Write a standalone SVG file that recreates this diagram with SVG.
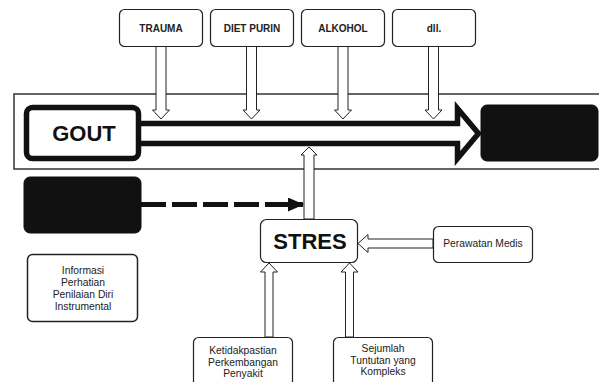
<svg xmlns="http://www.w3.org/2000/svg" width="599" height="382" viewBox="0 0 599 382">
<style>
.box{fill:#fff;stroke:#222;stroke-width:1.2}
.blk{fill:#111;stroke:#111;stroke-width:1}
.ha{fill:#fff;stroke:#222;stroke-width:1}
.tb{font-family:"Liberation Sans",Arial,sans-serif;font-weight:bold;font-size:10px;fill:#222;text-anchor:middle}
.tr{font-family:"Liberation Sans",Arial,sans-serif;font-size:10.3px;fill:#222;text-anchor:middle}
.big{font-family:"Liberation Sans",Arial,sans-serif;font-weight:bold;font-size:22px;fill:#111;text-anchor:middle}
</style>
<defs>
<marker id="ah" viewBox="0 0 16 14" refX="15" refY="7" markerWidth="16" markerHeight="14" markerUnits="userSpaceOnUse" orient="auto">
<path d="M0,0 L16,7 L0,14 Z" fill="#111"/>
</marker>
</defs>
<rect x="14" y="94" width="600" height="75" fill="#fff" stroke="#333" stroke-width="1.5"/>
<g id="connectors">
<path class="ha" d="M156,46 V110 H152.5 L161,119 L169.5,110 H166 V46 Z"/>
<path class="ha" d="M246.5,46 V110 H243 L251.5,119 L260,110 H256.5 V46 Z"/>
<path class="ha" d="M338,46 V110 H334.5 L343,119 L351.5,110 H348 V46 Z"/>
<path class="ha" d="M428.5,46 V110 H425 L433.5,119 L442,110 H438.5 V46 Z"/>
<path d="M120,123.5 H457.5 V108.5 L478.5,133.5 L457.5,158.5 V143.5 H120" fill="#fff" stroke="#111" stroke-width="5.5" stroke-linejoin="miter"/>
<path class="ha" d="M304,219 V155 H301 L309,147 L317,155 H314 V219 Z"/>
<line x1="141" y1="204.5" x2="303" y2="204.5" stroke="#111" stroke-width="5" stroke-dasharray="25,6" marker-end="url(#ah)"/>
<path class="ha" d="M433,239 H368 V234.5 L358,243.5 L368,252.5 V248 H433 Z"/>
<path class="ha" d="M265,337 V272 H260.5 L269,263 L277.5,272 H273 V337 Z"/>
<path class="ha" d="M345.5,337 V272 H341 L349.5,263 L358,272 H353.5 V337 Z"/>
</g>
<g id="trauma"><rect class="box" x="119.5" y="9.5" width="83" height="37" rx="5"/><text class="tb" x="161" y="32">TRAUMA</text></g>
<g id="dietpurin"><rect class="box" x="210.5" y="9.5" width="83" height="37" rx="5"/><text class="tb" x="252" y="32">DIET PURIN</text></g>
<g id="alkohol"><rect class="box" x="301.5" y="9.5" width="83" height="37" rx="5"/><text class="tb" x="343" y="32">ALKOHOL</text></g>
<g id="dll"><rect class="box" x="392.5" y="9.5" width="83" height="37" rx="5"/><text class="tb" x="434" y="32">dll.</text></g>
<g id="gout"><rect x="26.5" y="107.5" width="112" height="51" rx="6" fill="#fff" stroke="#111" stroke-width="5.5"/><text class="big" x="84" y="141">GOUT</text></g>
<g id="outcome"><rect class="blk" x="481" y="105" width="117" height="56" rx="6"/></g>
<g id="source"><rect class="blk" x="24" y="177" width="117" height="56" rx="6"/></g>
<g id="stres"><rect class="box" x="260.5" y="219.5" width="97" height="43" rx="6"/><text class="big" x="310" y="249">STRES</text></g>
<g id="perawatan"><rect class="box" x="433.5" y="226.5" width="99" height="36" rx="5"/><text class="tr" x="483" y="247">Perawatan Medis</text></g>
<g id="informasi"><rect class="box" x="27.5" y="254.5" width="110" height="67" rx="5" style="stroke-width:1.5"/>
<text class="tr" x="83" y="274">Informasi</text><text class="tr" x="83" y="286">Perhatian</text><text class="tr" x="83" y="298">Penilaian Diri</text><text class="tr" x="83" y="310">Instrumental</text></g>
<g id="ketidakpastian"><rect class="box" x="193.5" y="337.5" width="99" height="60" rx="5"/>
<text class="tr" x="243" y="354">Ketidakpastian</text><text class="tr" x="243" y="366">Perkembangan</text><text class="tr" x="243" y="377">Penyakit</text></g>
<g id="sejumlah"><rect class="box" x="333.5" y="337.5" width="99" height="60" rx="5"/>
<text class="tr" x="383" y="352">Sejumlah</text><text class="tr" x="383" y="364">Tuntutan yang</text><text class="tr" x="383" y="375">Kompleks</text></g>
</svg>
